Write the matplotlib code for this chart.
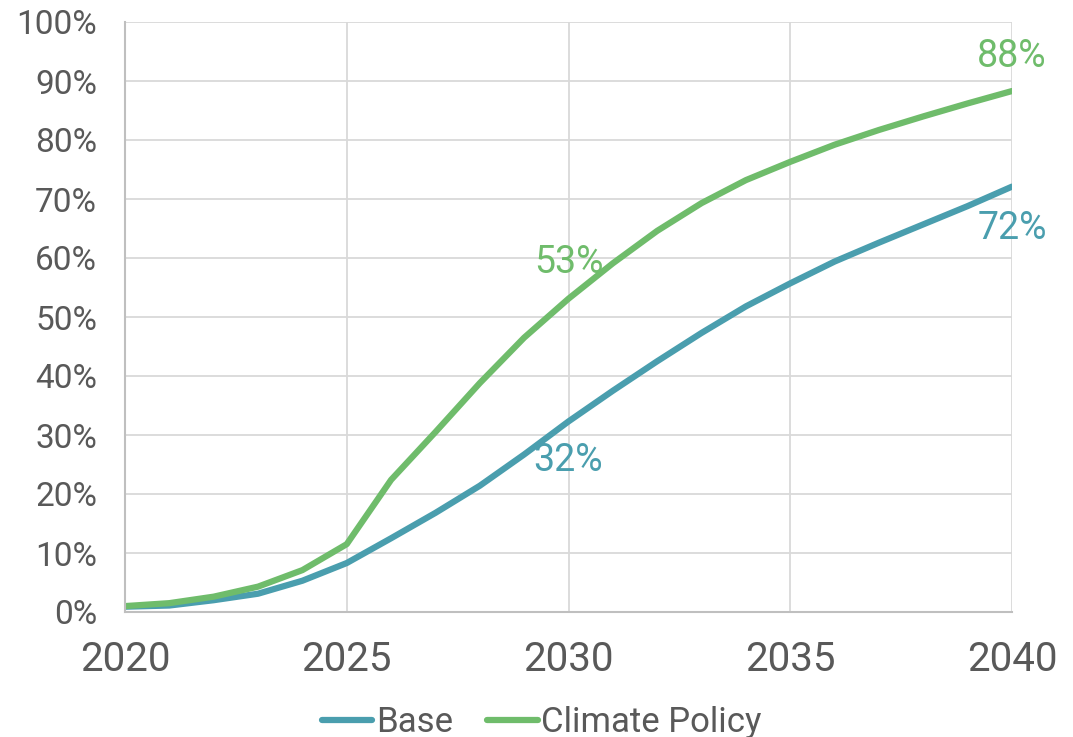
import matplotlib.pyplot as plt
from matplotlib.ticker import PercentFormatter

plt.rcParams['font.family'] = ['Roboto', 'DejaVu Sans']

years = list(range(2020, 2041))
base = [0.9, 1.1, 2.0, 3.1, 5.3, 8.3, 12.5, 16.8, 21.4, 26.7, 32.3,
        37.5, 42.5, 47.3, 51.8, 55.7, 59.4, 62.6, 65.7, 68.8, 72.1]
climate = [1.0, 1.5, 2.6, 4.3, 7.1, 11.5, 22.4, 30.5, 38.8, 46.5, 53.1,
           59.1, 64.6, 69.3, 73.2, 76.3, 79.2, 81.7, 84.0, 86.2, 88.3]

teal = '#4A9EAE'
green = '#6FBC6B'
txt = '#595959'

fig = plt.figure(figsize=(10.73, 7.37), dpi=100)
ax = fig.add_axes([125/1073, 1-612/737, (1012-125)/1073, (612-22)/737])

ax.plot(years, base, color=teal, lw=4.5, label='Base', solid_capstyle='round')
ax.plot(years, climate, color=green, lw=4.5, label='Climate Policy', solid_capstyle='round')

ax.set_xlim(2020, 2040)
ax.set_ylim(0, 100)
ax.set_xticks(range(2020, 2041, 5))
ax.set_yticks(range(0, 101, 10))
ax.yaxis.set_major_formatter(PercentFormatter(decimals=0))
ax.grid(True, color='#D9D9D9', lw=1.3)
ax.set_axisbelow(True)
for s in ['top', 'right']:
    ax.spines[s].set_visible(False)
for s in ['left', 'bottom']:
    ax.spines[s].set_color('#BFBFBF')
    ax.spines[s].set_linewidth(1.5)
ax.tick_params(length=0, colors=txt)
ax.tick_params(axis='y', labelsize=24, pad=20)
ax.tick_params(axis='x', labelsize=29, pad=20)

ax.text(2040, 94.2, '88%', color=green, fontsize=27, ha='center', va='center')
ax.text(2040, 65.0, '72%', color=teal, fontsize=27, ha='center', va='center')
ax.text(2030, 59.2, '53%', color=green, fontsize=27, ha='center', va='center')
ax.text(2030, 25.6, '32%', color=teal, fontsize=27, ha='center', va='center')

fig.legend(loc='lower center', bbox_to_anchor=(0.505, -0.045), ncol=2, frameon=False,
           fontsize=25, handlelength=1.45, handletextpad=0.1, columnspacing=1.0,
           labelcolor=txt)

fig.savefig('out.png', dpi=100)
